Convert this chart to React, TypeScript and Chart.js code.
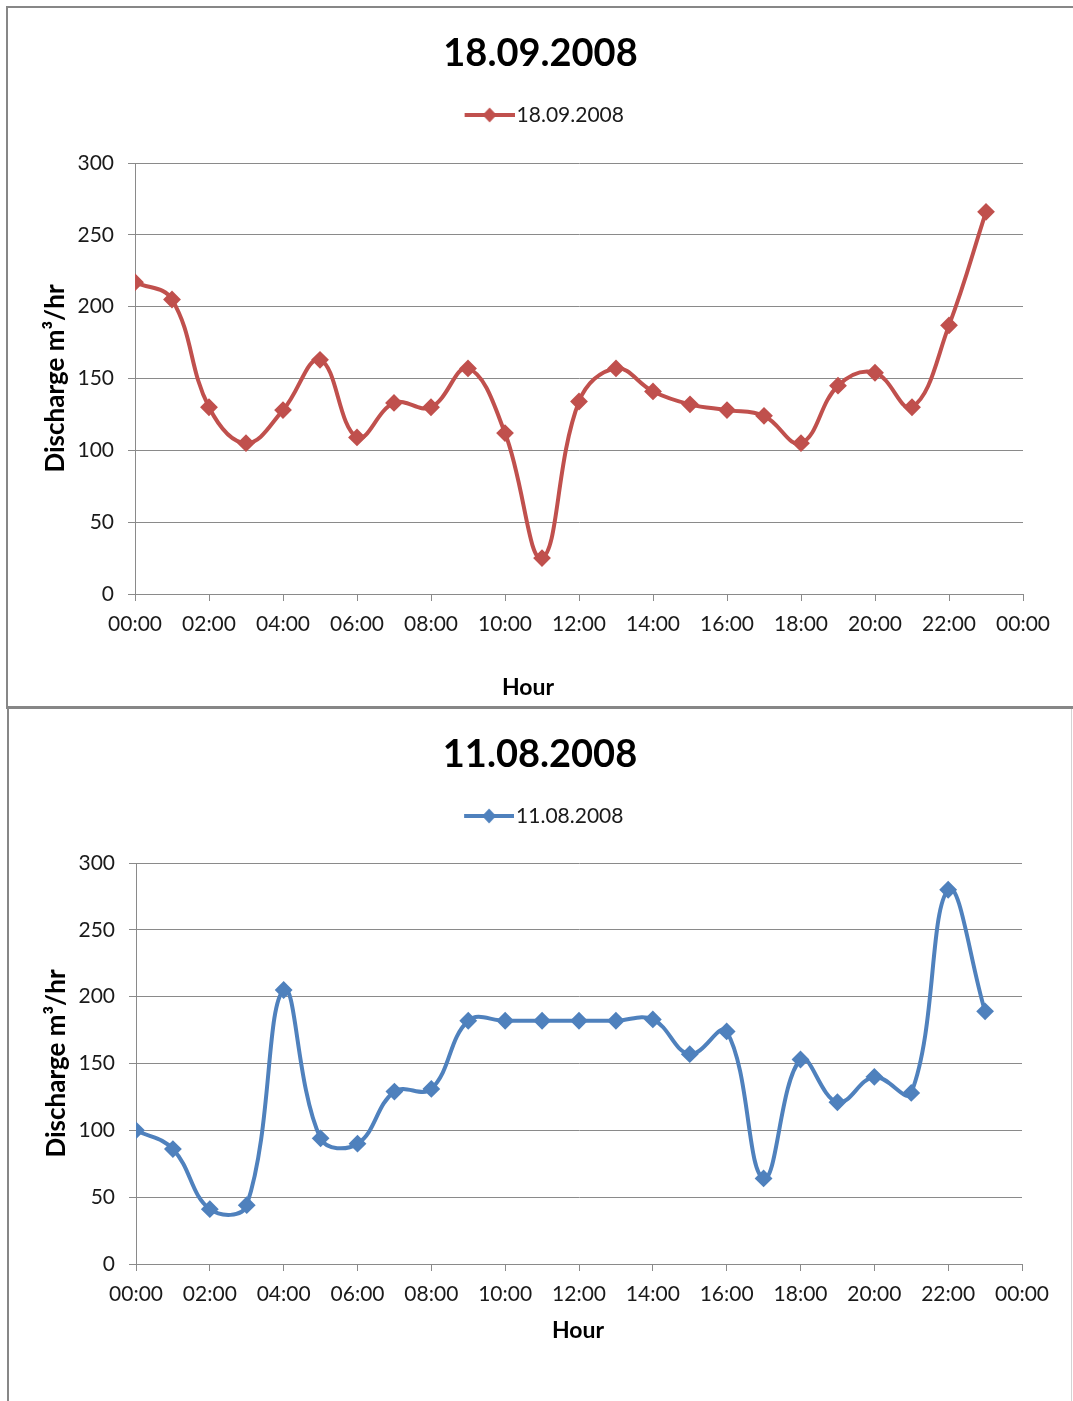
import React, { useEffect, useRef } from 'react';
import { Chart, registerables, layouts } from 'chart.js';

Chart.register(...registerables);

// ---- data ----
const hours = [0, 1, 2, 3, 4, 5, 6, 7, 8, 9, 10, 11, 12, 13, 14, 15, 16, 17, 18, 19, 20, 21, 22, 23];
const xTickLabels = ['00:00', '02:00', '04:00', '06:00', '08:00', '10:00', '12:00', '14:00', '16:00', '18:00', '20:00', '22:00', '00:00'];
const label18Sep = '18.09.2008';
const label11Aug = '11.08.2008';
const discharge18Sep = [217, 205, 130, 105, 128, 163, 109, 133, 130, 157, 112, 25, 134, 157, 141, 132, 128, 124, 105, 145, 154, 130, 187, 266];
const discharge11Aug = [100, 86, 41, 44, 205, 94, 90, 129, 131, 182, 182, 182, 182, 182, 183, 157, 174, 64, 153, 121, 140, 128, 280, 189];
const yAxisTitle = 'Discharge m³/hr';
const xAxisTitle = 'Hour';

const FONT = 'Lato, "Open Sans", "DejaVu Sans", sans-serif';
const GRID = '#8a8a8a';

function makeBox(position: string, weight: number, fullSize: boolean, size: () => number) {
  const box: any = {
    position,
    weight,
    fullSize,
    options: {},
    left: 0, top: 0, right: 0, bottom: 0, width: 0, height: 0,
    update(maxWidth: number, maxHeight: number) {
      if (position === 'top' || position === 'bottom') {
        this.width = maxWidth;
        this.height = size();
      } else {
        this.width = size();
        this.height = maxHeight;
      }
    },
    isHorizontal() { return position === 'top' || position === 'bottom'; },
    draw() {},
  };
  return box;
}

const spacerPlugin = {
  id: 'layoutSpacer',
  beforeInit(chart: any, _args: any, opts: any) {
    layouts.addBox(chart, makeBox('top', 500, true, () => (opts && opts.top) || 0));
    layouts.addBox(chart, makeBox('right', 500, false, () => (opts && opts.right) || 0));
  },
};

const xCaptionPlugin = {
  id: 'xAxisCaption',
  afterDraw(chart: any, _args: any, opts: any) {
    const { ctx, chartArea } = chart;
    ctx.save();
    ctx.font = `bold 23px ${FONT}`;
    ctx.fillStyle = '#000';
    ctx.textAlign = 'center';
    ctx.textBaseline = 'middle';
    ctx.fillText(opts.text, (chartArea.left + chartArea.right) / 2 + opts.dx, chartArea.bottom + opts.dy);
    ctx.restore();
  },
};

type PanelProps = {
  label: string;
  values: number[];
  color: string;
  width: number;
  height: number;
  rightPad: number;
  xAxisHeight: number;
  spacer: number;
  titlePadTop: number;
  hourDx: number;
  hourDy: number;
};

function ChartPanel(p: PanelProps) {
  const ref = useRef<HTMLCanvasElement>(null);
  useEffect(() => {
    const canvas = ref.current!;
    // legend marker: line with a diamond, drawn offset 8px right inside a 66px image
    const mark = document.createElement('canvas');
    mark.width = 66;
    mark.height = 16;
    const g = mark.getContext('2d')!;
    g.strokeStyle = p.color;
    g.lineWidth = 4;
    g.beginPath();
    g.moveTo(16, 8);
    g.lineTo(66, 8);
    g.stroke();
    g.fillStyle = p.color;
    g.beginPath();
    g.moveTo(41, 0.5);
    g.lineTo(48, 8);
    g.lineTo(41, 15.5);
    g.lineTo(34, 8);
    g.closePath();
    g.fill();

    const chart = new Chart(canvas, {
      type: 'line',
      data: {
        datasets: [
          {
            label: p.label,
            data: hours.map((h, i) => ({ x: h, y: p.values[i] })),
            borderColor: p.color,
            backgroundColor: p.color,
            borderWidth: 4,
            tension: 0.4,
            pointStyle: 'rectRot',
            pointRadius: 7.5,
            pointBorderWidth: 2,
            pointBackgroundColor: p.color,
            pointBorderColor: p.color,
          },
        ],
      },
      plugins: [spacerPlugin, xCaptionPlugin],
      options: {
        responsive: false,
        animation: false,
        layout: { padding: 0 },
        plugins: {
          title: {
            display: true,
            text: p.label,
            color: '#000',
            font: { family: FONT, size: 38, weight: 'bold' },
            padding: { top: p.titlePadTop, bottom: 18.2 },
          },
          legend: {
            display: true,
            position: 'top',
            labels: {
              usePointStyle: true,
              pointStyle: mark,
              pointStyleWidth: 49,
              color: '#1a1a1a',
              font: { family: FONT, size: 21 },
              padding: 10,
            },
          },
          tooltip: { enabled: false },
          layoutSpacer: { top: p.spacer, right: p.rightPad },
          xAxisCaption: { text: xAxisTitle, dx: p.hourDx, dy: p.hourDy },
        } as any,
        scales: {
          x: {
            type: 'linear',
            min: 0,
            max: 24,
            ticks: {
              stepSize: 2,
              autoSkip: false,
              maxRotation: 0,
              callback: (_v: any, i: number) => xTickLabels[i],
              color: '#1a1a1a',
              font: { family: FONT, size: 21 },
              padding: 11,
            },
            grid: { drawOnChartArea: false, drawTicks: true, tickLength: 7, color: GRID },
            border: { display: true, color: GRID, width: 1 },
            afterFit: (s: any) => {
              s.height = p.xAxisHeight;
            },
          },
          y: {
            min: 0,
            max: 300,
            ticks: {
              stepSize: 50,
              color: '#1a1a1a',
              font: { family: FONT, size: 21 },
              padding: 14,
            },
            grid: { color: GRID, tickLength: 7, drawTicks: true },
            border: { display: true, color: GRID, width: 1 },
            title: {
              display: true,
              text: yAxisTitle,
              color: '#000',
              font: { family: FONT, size: 26, weight: 'bold' },
              padding: { top: 32, bottom: 0 },
            },
            afterFit: (s: any) => {
              s.width = 127;
            },
          },
        },
      } as any,
    });
    return () => chart.destroy();
  }, []);
  return <canvas ref={ref} width={p.width} height={p.height} style={{ display: 'block' }} />;
}

export default function App() {
  return (
    <div style={{ position: 'relative', width: 1073, height: 1401, background: '#fff' }}>
      <div
        style={{
          position: 'fixed',
          left: 6,
          top: 6,
          width: 1067,
          height: 703,
          boxSizing: 'border-box',
          borderLeft: '2px solid #878787',
          borderTop: '2px solid #878787',
          borderBottom: '3px solid #878787',
          background: '#fff',
        }}
      >
        <ChartPanel
          label={label18Sep}
          values={discharge18Sep}
          color="#C0504D"
          width={1065}
          height={698}
          rightPad={50}
          xAxisHeight={112}
          spacer={27.5}
          titlePadTop={22.7}
          hourDx={-51}
          hourDy={94}
        />
      </div>
      <div
        style={{
          position: 'fixed',
          left: 7,
          top: 709,
          width: 1065,
          height: 692,
          boxSizing: 'border-box',
          borderLeft: '2px solid #878787',
          borderRight: '1px solid #d4d4d4',
          background: '#fff',
        }}
      >
        <ChartPanel
          label={label11Aug}
          values={discharge11Aug}
          color="#4F81BD"
          width={1062}
          height={692}
          rightPad={49}
          xAxisHeight={137}
          spacer={26.5}
          titlePadTop={22.7}
          hourDx={-1}
          hourDy={67}
        />
      </div>
    </div>
  );
}
